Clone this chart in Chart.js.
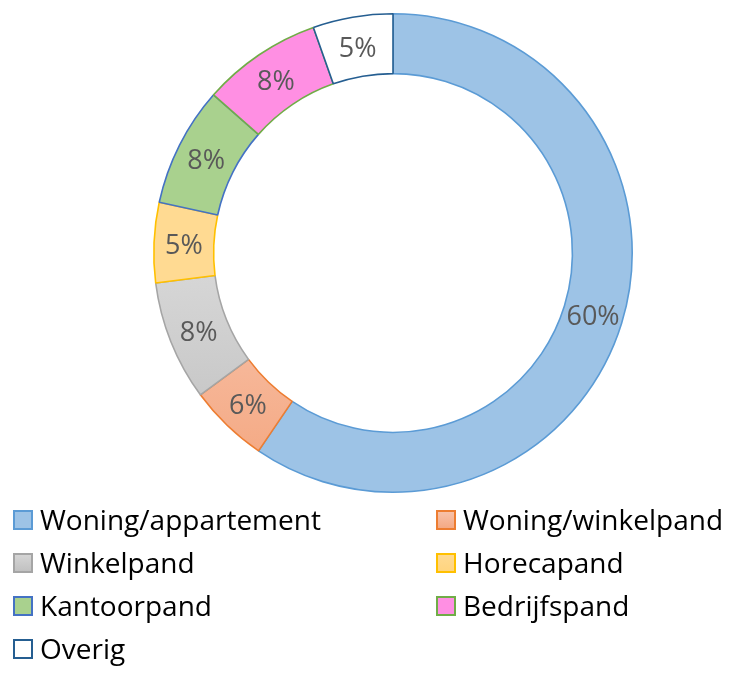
<!DOCTYPE html>
<html>
<head>
<meta charset="utf-8">
<script src="https://cdn.jsdelivr.net/npm/chart.js@4"></script>
<style>
  html, body { margin: 0; padding: 0; background: #ffffff; }
  #wrap { width: 729px; height: 675px; position: relative; }
</style>
</head>
<body>
<div id="wrap"><canvas id="c" width="729" height="675"></canvas></div>
<script>
const categories = ["Woning/appartement", "Woning/winkelpand", "Winkelpand", "Horecapand", "Kantoorpand", "Bedrijfspand", "Overig"];
const shares = [59.5, 5.4, 8.1, 5.4, 8.1, 8.1, 5.4];
const shareLabels = ["60%", "6%", "8%", "5%", "8%", "8%", "5%"];
const fillTop = ["#9DC3E6", "#F8C3AB", "#D6D6D6", "#FFDA92", "#A9D18E", "#FF8FE3", "#FFFFFF"];
const fillBottom = ["#9DC3E6", "#F4A882", "#C0C0C0", "#FFD47E", "#A9D18E", "#FF8FE3", "#FFFFFF"];
const borders = ["#5B9BD5", "#ED7D31", "#A5A5A5", "#FFC000", "#4472C4", "#70AD47", "#255E91"];

const FONT = "'Open Sans', 'DejaVu Sans', sans-serif";

function fillFor(ctx) {
  const i = ctx.dataIndex;
  const chart = ctx.chart;
  if (fillTop[i] === fillBottom[i]) return fillTop[i];
  const area = chart.chartArea;
  if (!area) return fillTop[i];
  const c = chart.ctx;
  const g = c.createLinearGradient(0, area.top + area.height * 0.55, 0, area.bottom - area.height * 0.05);
  g.addColorStop(0, fillTop[i]);
  g.addColorStop(1, fillBottom[i]);
  return g;
}

const labelPlugin = {
  id: 'sliceLabels',
  afterDatasetsDraw(chart) {
    const ctx = chart.ctx;
    const meta = chart.getDatasetMeta(0);
    ctx.save();
    ctx.font = "27px " + FONT;
    ctx.fillStyle = "#595959";
    ctx.textAlign = "center";
    ctx.textBaseline = "middle";
    meta.data.forEach((arc, i) => {
      const p = arc.tooltipPosition();
      ctx.fillText(shareLabels[i], p.x, p.y + 3);
    });
    ctx.restore();
  }
};

const legendPlugin = {
  id: 'gridLegend',
  afterDraw(chart, args, opts) {
    const ctx = chart.ctx;
    const labels = chart.data.labels;
    ctx.save();
    ctx.font = opts.fontSize + "px " + FONT;
    ctx.textBaseline = "middle";
    ctx.textAlign = "left";
    labels.forEach((lab, i) => {
      const col = i % 2, row = Math.floor(i / 2);
      const x = opts.colX[col];
      const y = opts.top + row * opts.rowH;
      const b = opts.box;
      const g = ctx.createLinearGradient(0, y - b / 2, 0, y + b / 2);
      g.addColorStop(0, fillTop[i]);
      g.addColorStop(1, fillBottom[i]);
      ctx.fillStyle = g;
      ctx.fillRect(x, y - b / 2, b, b);
      ctx.lineWidth = 2;
      ctx.strokeStyle = borders[i];
      ctx.strokeRect(x, y - b / 2, b, b);
      ctx.fillStyle = "#000000";
      ctx.fillText(lab, x + b + 8, y + 2);
    });
    ctx.restore();
  }
};

new Chart(document.getElementById('c'), {
  type: 'doughnut',
  data: {
    labels: categories,
    datasets: [{
      data: shares,
      backgroundColor: fillFor,
      borderColor: borders,
      borderWidth: 1.6,
      hoverOffset: 0
    }]
  },
  options: {
    responsive: false,
    animation: false,
    cutout: '75%',
    rotation: 0,
    layout: { padding: { left: 153, right: 96, top: 13, bottom: 182 } },
    plugins: {
      legend: { display: false },
      tooltip: { enabled: false },
      gridLegend: { colX: [14, 437], top: 520, rowH: 43, box: 18, fontSize: 28 }
    }
  },
  plugins: [labelPlugin, legendPlugin]
});
</script>
</body>
</html>
